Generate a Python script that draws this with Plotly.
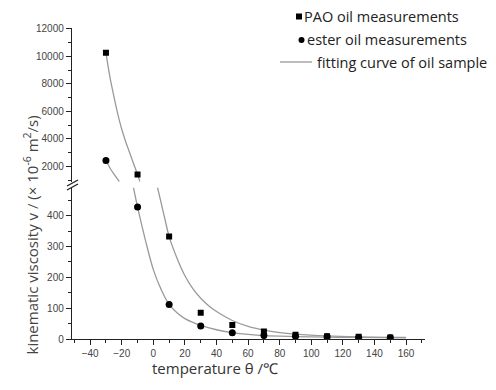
import plotly.graph_objects as go

# ---- data ----
temps = [-30, -10, 10, 30, 50, 70, 90, 110, 130, 150]
pao_vals = [10250, 1420, 332, 85, 45, 24, 14, 9, 7, 5]
ester_vals = [2430, 428, 112, 42, 20, 11, 9, 7, 5, 4]

# fitted curves, upper panel and lower panel parts
pao_fit_up_x = [-30, -27.5, -25, -22.5, -20, -17.5, -15, -12.5, -10, -8.5]
pao_fit_up_y = [10250, 8500, 7100, 5800, 4700, 3800, 3000, 2200, 1420, 900]
pao_fit_lo_x = [2.5, 5, 7.5, 10, 15, 20, 25, 30, 35, 40, 50, 60, 70, 80, 90, 110, 130, 160]
pao_fit_lo_y = [494, 440, 385, 332, 262, 205, 163, 132, 108, 89, 60, 41, 29, 21, 16, 10, 7, 5]

ester_fit_up_x = [-30, -27, -24, -21.5]
ester_fit_up_y = [2430, 1800, 1300, 900]
ester_fit_lo_x = [-12.7, -10, -5, 0, 5, 10, 15, 20, 30, 40, 50, 60, 70, 90, 110, 130, 160]
ester_fit_lo_y = [494, 428, 320, 225, 160, 112, 85, 66, 44, 30, 21, 15, 11, 8, 6, 5, 4]

legend_labels = ["PAO oil measurements", "ester oil measurements", "fitting curve of oil sample"]

BREAK = 900  # values above this go to the upper panel

x_ticks = list(range(-40, 161, 20))
low_ticks = [0, 100, 200, 300, 400]
up_ticks = [2000, 4000, 6000, 8000, 10000, 12000]

def split(xs, ys):
    up = [(x, y) for x, y in zip(xs, ys) if y >= BREAK]
    lo = [(x, y) for x, y in zip(xs, ys) if y < BREAK]
    return ([p[0] for p in up], [p[1] for p in up]), ([p[0] for p in lo], [p[1] for p in lo])

(pu_x, pu_y), (pl_x, pl_y) = split(temps, pao_vals)
(eu_x, eu_y), (el_x, el_y) = split(temps, ester_vals)

CURVE_COLOR = "#9a9a9a"
CURVE = dict(color=CURVE_COLOR, width=1.3, shape="spline")
SQ = dict(symbol="square", size=6, color="black")
CI = dict(symbol="circle", size=7, color="black")

fig = go.Figure()
# curves
fig.add_trace(go.Scatter(x=pao_fit_up_x, y=pao_fit_up_y, mode="lines", line=CURVE,
                         yaxis="y2", showlegend=False, hoverinfo="skip"))
fig.add_trace(go.Scatter(x=ester_fit_up_x, y=ester_fit_up_y, mode="lines", line=CURVE,
                         yaxis="y2", showlegend=False, hoverinfo="skip"))
fig.add_trace(go.Scatter(x=pao_fit_lo_x, y=pao_fit_lo_y, mode="lines", line=CURVE,
                         yaxis="y", showlegend=False, hoverinfo="skip"))
fig.add_trace(go.Scatter(x=ester_fit_lo_x, y=ester_fit_lo_y, mode="lines", line=CURVE,
                         yaxis="y", showlegend=False, hoverinfo="skip"))
# markers
fig.add_trace(go.Scatter(x=pl_x, y=pl_y, mode="markers", marker=SQ, yaxis="y",
                         name=legend_labels[0], showlegend=False))
fig.add_trace(go.Scatter(x=pu_x, y=pu_y, mode="markers", marker=SQ, yaxis="y2",
                         name=legend_labels[0], showlegend=False))
fig.add_trace(go.Scatter(x=el_x, y=el_y, mode="markers", marker=CI, yaxis="y",
                         name=legend_labels[1], showlegend=False))
fig.add_trace(go.Scatter(x=eu_x, y=eu_y, mode="markers", marker=CI, yaxis="y2",
                         name=legend_labels[1], showlegend=False))

AX = dict(showline=True, linecolor="#222", linewidth=1.4, ticks="outside",
          ticklen=5, tickwidth=1.2, tickcolor="#222", showgrid=False, zeroline=False,
          tickformat="d",
          tickfont=dict(family="Liberation Sans, Arial", size=10, color="#444"))

# page has an 8px body margin; the figure is sized so the plot area lands
# at x 72..425, y 28..339 in the window
OFF = 8
W, H = 488, 382
L, R, T, B = 64, 71, 20, 51
PX0, PX1 = OFF + L, OFF + W - R
PY0, PY1 = OFF + T, OFF + H - B
pw, ph = PX1 - PX0, PY1 - PY0

def px2paper(px, py):
    return (px - PX0) / pw, (PY1 - py) / ph

fig.update_layout(
    width=W, height=H,
    margin=dict(l=L, r=R, t=T, b=B, autoexpand=False),
    paper_bgcolor="white", plot_bgcolor="white",
    showlegend=False,
    xaxis=dict(range=[-51.5, 172], tickvals=x_ticks, anchor="y",
               minor=dict(ticks="outside", dtick=10, ticklen=3, tickcolor="#222"),
               **AX),
    yaxis=dict(domain=[0, 0.486], range=[0, 490], tickvals=low_ticks, anchor="x",
               minor=dict(ticks="outside", dtick=50, ticklen=3, tickcolor="#222"),
               **AX),
    yaxis2=dict(domain=[0.506, 1], range=[900, 12050], tickvals=up_ticks, anchor="x",
                minor=dict(ticks="outside", dtick=1000, ticklen=3, tickcolor="#222"),
                **AX),
)

# axis titles
xa, ya = px2paper(215, 379)
fig.add_annotation(text="temperature θ /℃", x=xa, y=ya, xref="paper", yref="paper",
                   showarrow=False, borderpad=0,
                   font=dict(family="Open Sans, Noto Sans", size=15, color="#333"))
xa, ya = px2paper(18, 235)
fig.add_annotation(text="kinematic viscosity v / (× 10<sup>-6</sup> m<sup>2</sup>/s)",
                   x=xa, y=ya, xref="paper", yref="paper", textangle=-90,
                   showarrow=False,
                   font=dict(family="Open Sans", size=15, color="#444"))

# axis break marks
for (x0, y0, x1, y1) in [(67, 186, 78, 180), (67, 190, 78, 184)]:
    a0, b0 = px2paper(x0, y0)
    a1, b1 = px2paper(x1, y1)
    fig.add_shape(type="line", x0=a0, y0=b0, x1=a1, y1=b1, xref="paper", yref="paper",
                  line=dict(color="#222", width=1.4))

# legend (drawn by hand to match the key layout of the original)
LEG_FONT = dict(family="Open Sans, Noto Sans", size=14.5, color="#222")
rows = [(304, 17), (307, 40), (317, 62)]
for label, (tx, ty) in zip(legend_labels, rows):
    a, b = px2paper(tx - 1, ty)
    fig.add_annotation(text=label, x=a, y=b, xref="paper", yref="paper",
                       xanchor="left", yanchor="middle", showarrow=False,
                       borderpad=0, font=LEG_FONT)
# key: square
a0, b0 = px2paper(296, 19.5)
a1, b1 = px2paper(302, 13.5)
fig.add_shape(type="rect", x0=a0, y0=b0, x1=a1, y1=b1, xref="paper", yref="paper",
              fillcolor="black", line=dict(width=0))
# key: circle
a0, b0 = px2paper(298.5, 43)
a1, b1 = px2paper(304.5, 37)
fig.add_shape(type="circle", x0=a0, y0=b0, x1=a1, y1=b1, xref="paper", yref="paper",
              fillcolor="black", line=dict(width=0))
# key: line
a0, b0 = px2paper(280, 62)
a1, b1 = px2paper(312, 62)
fig.add_shape(type="line", x0=a0, y0=b0, x1=a1, y1=b1, xref="paper", yref="paper",
              line=dict(color=CURVE_COLOR, width=1.3))

fig.write_html("out.html")
